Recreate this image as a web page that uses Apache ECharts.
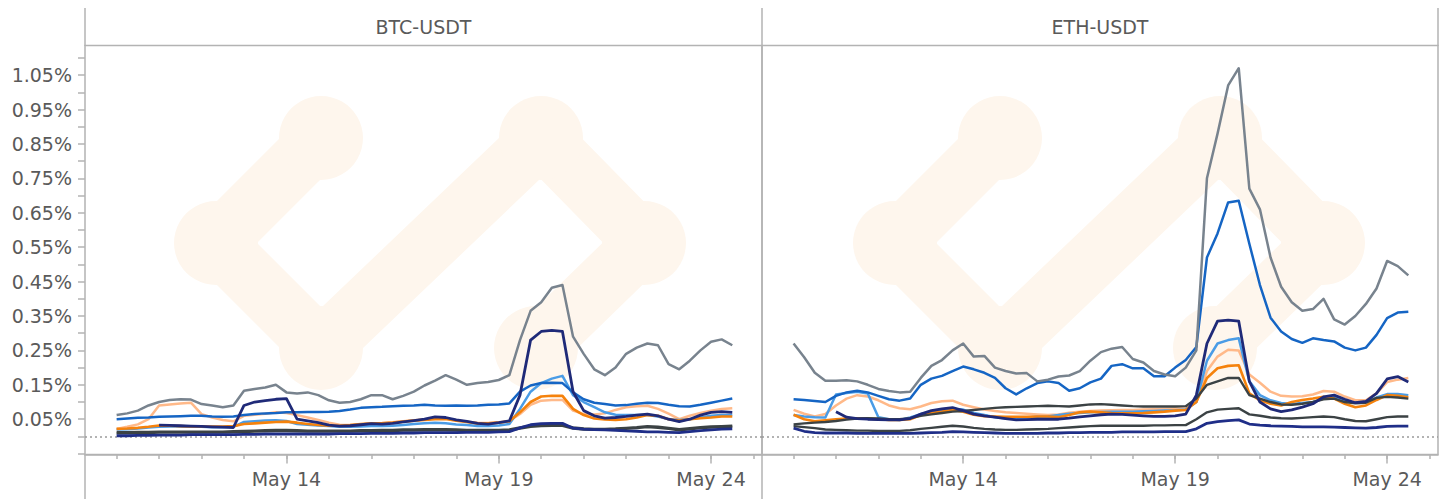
<!DOCTYPE html>
<html><head><meta charset="utf-8">
<script src="https://cdn.jsdelivr.net/npm/echarts@6/dist/echarts.min.js"></script>
<style>html,body{margin:0;padding:0;background:#fff}#c{width:1445px;height:499px}</style>
</head><body><div id="c"></div><script>
// Samples every 6 hours starting May 10 00:00 (x = days since May 10)
const STEP_DAYS = 0.25;
const FIRST_DAY = 10; // May 10
const X_TICK_DAYS = [0,1,2,3,4,5,6,7,8,9,10,11,12,13,14,15];
const X_LABEL_DAYS = [4, 9, 14];
const Y_TICKS = [-0.05,0,0.05,0.1,0.15,0.2,0.25,0.3,0.35,0.4,0.45,0.5,0.55,0.6,0.65,0.7,0.75,0.8,0.85,0.9,0.95,1.0,1.05,1.1];
const Y_LABELS = [0.05,0.15,0.25,0.35,0.45,0.55,0.65,0.75,0.85,0.95,1.05];
const PANEL_TITLES = ['BTC-USDT', 'ETH-USDT'];

// ---- BTC-USDT (values in %) ----
const BTC_gray = [0.062,0.067,0.075,0.09,0.1,0.106,0.108,0.107,0.094,0.09,0.085,0.09,0.133,0.138,0.142,0.15,0.128,0.125,0.128,0.12,0.105,0.098,0.1,0.108,0.12,0.12,0.108,0.118,0.13,0.148,0.162,0.178,0.165,0.15,0.155,0.158,0.164,0.178,0.28,0.365,0.39,0.432,0.44,0.29,0.24,0.195,0.178,0.2,0.24,0.258,0.27,0.265,0.21,0.195,0.22,0.25,0.275,0.282,0.265];
const BTC_blue = [0.05,0.052,0.054,0.055,0.057,0.058,0.059,0.06,0.06,0.058,0.057,0.058,0.062,0.065,0.067,0.068,0.07,0.07,0.071,0.071,0.072,0.074,0.078,0.083,0.085,0.086,0.088,0.089,0.09,0.092,0.09,0.089,0.09,0.089,0.09,0.092,0.093,0.096,0.13,0.148,0.155,0.156,0.155,0.128,0.108,0.098,0.094,0.09,0.091,0.095,0.098,0.097,0.092,0.088,0.087,0.092,0.098,0.104,0.11];
const BTC_navy = [null,null,null,null,0.033,0.032,0.031,0.03,0.029,0.028,0.027,0.026,0.09,0.1,0.104,0.108,0.11,0.05,0.045,0.04,0.033,0.03,0.031,0.034,0.037,0.036,0.038,0.042,0.046,0.05,0.057,0.055,0.048,0.044,0.038,0.036,0.04,0.045,0.12,0.28,0.305,0.308,0.305,0.13,0.075,0.06,0.053,0.055,0.058,0.062,0.065,0.06,0.05,0.043,0.05,0.062,0.07,0.072,0.07];
const BTC_lightblue = [0.02,0.021,0.023,0.026,0.028,0.029,0.029,0.028,0.028,0.027,0.027,0.028,0.042,0.044,0.046,0.047,0.045,0.036,0.034,0.032,0.03,0.028,0.028,0.029,0.03,0.03,0.031,0.033,0.036,0.038,0.04,0.038,0.035,0.033,0.03,0.03,0.032,0.036,0.08,0.13,0.155,0.168,0.176,0.12,0.1,0.085,0.07,0.063,0.062,0.062,0.062,0.058,0.05,0.048,0.05,0.055,0.06,0.062,0.062];
const BTC_peach = [0.022,0.028,0.035,0.05,0.09,0.093,0.096,0.098,0.065,0.055,0.048,0.044,0.06,0.063,0.066,0.07,0.068,0.062,0.055,0.048,0.04,0.034,0.033,0.035,0.038,0.039,0.041,0.044,0.047,0.049,0.052,0.052,0.047,0.043,0.04,0.039,0.041,0.045,0.065,0.092,0.104,0.106,0.106,0.075,0.065,0.064,0.067,0.077,0.085,0.088,0.089,0.08,0.066,0.05,0.06,0.068,0.075,0.08,0.082];
const BTC_orange = [0.022,0.023,0.025,0.028,0.032,0.031,0.03,0.029,0.029,0.029,0.029,0.03,0.036,0.038,0.04,0.042,0.043,0.04,0.036,0.033,0.031,0.031,0.033,0.036,0.038,0.038,0.04,0.043,0.046,0.048,0.05,0.051,0.046,0.042,0.038,0.038,0.04,0.044,0.07,0.1,0.116,0.118,0.118,0.08,0.062,0.052,0.049,0.048,0.05,0.055,0.062,0.06,0.05,0.046,0.05,0.053,0.055,0.058,0.058];
const BTC_char1 = [0.012,0.012,0.013,0.013,0.014,0.014,0.014,0.014,0.014,0.014,0.014,0.015,0.016,0.017,0.018,0.019,0.019,0.018,0.017,0.017,0.017,0.017,0.017,0.018,0.018,0.019,0.019,0.02,0.02,0.021,0.021,0.021,0.02,0.019,0.019,0.019,0.019,0.02,0.026,0.031,0.033,0.034,0.034,0.026,0.023,0.022,0.022,0.023,0.025,0.027,0.03,0.028,0.025,0.021,0.024,0.027,0.029,0.03,0.031];
const BTC_char2 = [0.009,0.009,0.01,0.01,0.011,0.011,0.011,0.011,0.011,0.011,0.011,0.012,0.013,0.014,0.015,0.016,0.016,0.015,0.014,0.014,0.014,0.014,0.014,0.015,0.015,0.016,0.016,0.017,0.017,0.018,0.018,0.018,0.017,0.016,0.016,0.016,0.016,0.017,0.023,0.028,0.03,0.031,0.031,0.023,0.02,0.019,0.019,0.02,0.022,0.024,0.027,0.025,0.022,0.018,0.021,0.024,0.026,0.027,0.028];
const BTC_navy2 = [0.002,0.002,0.003,0.003,0.004,0.004,0.004,0.005,0.005,0.005,0.005,0.005,0.006,0.006,0.007,0.007,0.007,0.007,0.007,0.007,0.007,0.008,0.008,0.008,0.009,0.009,0.009,0.01,0.01,0.011,0.011,0.011,0.011,0.012,0.012,0.012,0.013,0.014,0.025,0.034,0.037,0.038,0.038,0.024,0.021,0.02,0.019,0.018,0.016,0.015,0.013,0.013,0.012,0.011,0.014,0.017,0.019,0.021,0.022];

// ---- ETH-USDT (values in %) ----
const ETH_gray = [0.27,0.23,0.185,0.162,0.162,0.163,0.16,0.15,0.138,0.132,0.128,0.13,0.17,0.205,0.222,0.25,0.27,0.232,0.234,0.2,0.19,0.183,0.184,0.16,0.165,0.174,0.177,0.19,0.22,0.245,0.255,0.26,0.225,0.215,0.19,0.18,0.175,0.2,0.25,0.75,0.88,1.02,1.07,0.72,0.66,0.52,0.435,0.39,0.365,0.37,0.4,0.34,0.325,0.35,0.385,0.43,0.51,0.495,0.468];
const ETH_blue = [0.108,0.106,0.103,0.1,0.118,0.128,0.133,0.128,0.118,0.108,0.104,0.11,0.15,0.168,0.176,0.19,0.203,0.195,0.185,0.17,0.14,0.122,0.14,0.155,0.16,0.155,0.133,0.14,0.157,0.168,0.205,0.21,0.198,0.198,0.175,0.175,0.2,0.222,0.26,0.52,0.59,0.68,0.685,0.56,0.44,0.345,0.305,0.283,0.272,0.285,0.28,0.276,0.258,0.25,0.258,0.295,0.344,0.36,0.362];
const ETH_navy = [null,null,null,null,0.072,0.056,0.052,0.05,0.049,0.048,0.048,0.052,0.065,0.075,0.08,0.084,0.075,0.065,0.06,0.056,0.052,0.048,0.049,0.05,0.05,0.05,0.053,0.057,0.06,0.063,0.065,0.064,0.062,0.06,0.058,0.058,0.06,0.065,0.12,0.27,0.335,0.338,0.335,0.16,0.1,0.08,0.072,0.077,0.085,0.095,0.115,0.12,0.108,0.098,0.102,0.125,0.167,0.174,0.158];
const ETH_lightblue = [0.062,0.058,0.056,0.055,0.122,0.126,0.13,0.125,0.056,0.05,0.048,0.055,0.065,0.072,0.075,0.08,0.078,0.068,0.062,0.056,0.053,0.054,0.055,0.057,0.058,0.062,0.066,0.068,0.07,0.071,0.072,0.072,0.072,0.073,0.074,0.075,0.076,0.078,0.1,0.22,0.27,0.28,0.285,0.16,0.12,0.105,0.097,0.094,0.097,0.1,0.11,0.115,0.103,0.098,0.1,0.113,0.123,0.123,0.12];
const ETH_peach = [0.077,0.066,0.058,0.065,0.09,0.11,0.12,0.116,0.105,0.09,0.082,0.079,0.087,0.097,0.102,0.104,0.092,0.085,0.078,0.074,0.07,0.068,0.066,0.064,0.062,0.064,0.069,0.072,0.074,0.075,0.076,0.077,0.077,0.078,0.079,0.08,0.081,0.082,0.1,0.19,0.232,0.252,0.25,0.18,0.156,0.13,0.118,0.116,0.117,0.122,0.132,0.13,0.116,0.105,0.105,0.125,0.158,0.165,0.17];
const ETH_orange = [0.063,0.05,0.044,0.047,0.05,0.052,0.053,0.052,0.05,0.048,0.048,0.05,0.062,0.068,0.072,0.077,0.072,0.063,0.059,0.058,0.057,0.057,0.057,0.058,0.058,0.056,0.062,0.07,0.072,0.07,0.068,0.067,0.067,0.068,0.07,0.072,0.075,0.077,0.1,0.17,0.198,0.205,0.207,0.125,0.105,0.095,0.09,0.1,0.106,0.11,0.115,0.11,0.095,0.085,0.09,0.106,0.12,0.118,0.114];
const ETH_char1 = [0.035,0.038,0.04,0.042,0.045,0.049,0.052,0.053,0.052,0.05,0.05,0.053,0.06,0.064,0.068,0.072,0.074,0.077,0.08,0.083,0.085,0.086,0.087,0.088,0.089,0.088,0.087,0.09,0.093,0.094,0.092,0.09,0.088,0.087,0.087,0.087,0.087,0.088,0.11,0.15,0.16,0.17,0.17,0.12,0.11,0.1,0.093,0.092,0.095,0.1,0.108,0.11,0.1,0.096,0.098,0.112,0.115,0.113,0.11];
const ETH_char2 = [0.03,0.027,0.024,0.02,0.019,0.018,0.017,0.017,0.016,0.016,0.016,0.018,0.022,0.025,0.028,0.031,0.029,0.025,0.022,0.02,0.019,0.019,0.02,0.021,0.022,0.024,0.026,0.028,0.03,0.031,0.031,0.031,0.031,0.031,0.032,0.032,0.033,0.033,0.05,0.07,0.078,0.08,0.082,0.064,0.06,0.055,0.053,0.052,0.054,0.056,0.058,0.056,0.05,0.045,0.044,0.05,0.056,0.058,0.058];
const ETH_navy2 = [0.024,0.015,0.011,0.01,0.01,0.01,0.009,0.009,0.009,0.009,0.009,0.009,0.01,0.011,0.012,0.014,0.013,0.012,0.011,0.01,0.009,0.009,0.009,0.009,0.01,0.01,0.011,0.011,0.012,0.012,0.012,0.013,0.013,0.013,0.013,0.014,0.014,0.014,0.022,0.038,0.043,0.046,0.048,0.036,0.033,0.031,0.03,0.029,0.028,0.028,0.028,0.027,0.026,0.025,0.024,0.026,0.029,0.03,0.03];

const PANEL_DATA = [
  {peach:BTC_peach, lightblue:BTC_lightblue, orange:BTC_orange, char2:BTC_char2, char1:BTC_char1, navy2:BTC_navy2, blue:BTC_blue, gray:BTC_gray, navy:BTC_navy},
  {peach:ETH_peach, lightblue:ETH_lightblue, orange:ETH_orange, char2:ETH_char2, char1:ETH_char1, navy2:ETH_navy2, blue:ETH_blue, gray:ETH_gray, navy:ETH_navy}
];
const LINE_STYLES = [
  {key:'peach', color:'#ffb989', width:2.5},
  {key:'lightblue', color:'#4a9ce6', width:2.5},
  {key:'orange', color:'#f5820c', width:2.6},
  {key:'char2', color:'#3b4244', width:2.4},
  {key:'char1', color:'#3b4244', width:2.4},
  {key:'navy2', color:'#1f2e88', width:2.8},
  {key:'blue', color:'#1565c4', width:2.5},
  {key:'gray', color:'#78838e', width:2.5},
  {key:'navy', color:'#1f2a78', width:2.8}
];

const TXT = '#5a5a5a', LINE = '#b3b3b3', FONT = 'DejaVu Sans', FS = 19;
const X_MIN = -0.745, X_MAX = 15.2, Y_MIN = -0.0525, Y_MAX = 1.136;
const G_TOP = 45.5, G_BOTTOM = 44.5;
const grids = [
  {left:85, top:G_TOP, width:677, bottom:G_BOTTOM},
  {left:762, top:G_TOP, width:676, bottom:G_BOTTOM}
];

const xAxis = [], yAxis = [], series = [];
grids.forEach((g, p) => {
  g.show = true; g.borderColor = LINE; g.borderWidth = 1.5; g.containLabel = false; g.outerBoundsMode = 'none';
  xAxis.push({gridIndex:p, type:'value', min:X_MIN, max:X_MAX, position:'bottom',
    axisLine:{show:true, onZero:false, lineStyle:{color:LINE, width:1.5}},
    axisTick:{show:true, customValues:X_TICK_DAYS, length:4.5, lineStyle:{color:LINE, width:1.5}},
    axisLabel:{show:false}, splitLine:{show:false}});
  xAxis.push({gridIndex:p, type:'value', min:X_MIN, max:X_MAX, position:'bottom',
    axisLine:{show:false, onZero:false},
    axisTick:{show:true, customValues:X_LABEL_DAYS, length:9, lineStyle:{color:LINE, width:1.5}},
    axisLabel:{show:true, customValues:X_LABEL_DAYS, margin:15, color:TXT, fontSize:FS, fontFamily:FONT,
      formatter:v => 'May ' + (FIRST_DAY + Math.round(v))},
    splitLine:{show:false}});
  yAxis.push({gridIndex:p, type:'value', min:Y_MIN, max:Y_MAX, position:'left',
    axisLine:{show:false, onZero:false},
    axisTick:{show:p === 0, customValues:Y_TICKS, length:7, lineStyle:{color:LINE, width:1.5}},
    axisLabel:{show:p === 0, customValues:Y_LABELS, margin:13, color:TXT, fontSize:FS, fontFamily:FONT,
      formatter:v => v.toFixed(2) + '%'},
    splitLine:{show:false}});
  LINE_STYLES.forEach((s, k) => {
    const arr = PANEL_DATA[p][s.key];
    const ser = {type:'line', name:PANEL_TITLES[p] + ' ' + s.key, xAxisIndex:p*2, yAxisIndex:p,
      data:arr.map((v, i) => [i * STEP_DAYS, v]), showSymbol:false, symbol:'none', silent:true,
      connectNulls:false, lineStyle:{color:s.color, width:s.width, join:'round'}, itemStyle:{color:s.color}, z:3 + k};
    if (k === 0) {
      ser.markLine = {silent:true, symbol:'none', label:{show:false},
        lineStyle:{color:'#9a9a9a', width:1.5, type:[2,3]}, data:[{yAxis:0}]};
    }
    series.push(ser);
  });
});

// watermark logo + frame extensions + panel headers
const WM = '#fef6ed';
const graphic = [];
[[431, 243], [1110, 243]].forEach(([cx, cy]) => {
  const pts = [[cx-110, cy-105], [cx-215, cy], [cx-110, cy+105], [cx+110, cy-105], [cx+213, cy], [cx+105, cy+105]];
  graphic.push({type:'polyline', z:1, silent:true, shape:{points:pts},
    style:{stroke:WM, lineWidth:58, lineCap:'round', lineJoin:'round', fill:null}});
  pts.forEach(([x, y]) => graphic.push({type:'circle', z:1, silent:true, shape:{cx:x, cy:y, r:42}, style:{fill:WM}}));
});
[[85, 8, 46], [762, 8, 46], [1438, 8, 46], [85, 454, 499], [762, 454, 499]].forEach(([x, y1, y2]) => {
  graphic.push({type:'line', z:5, silent:true, shape:{x1:x, y1:y1, x2:x, y2:y2}, style:{stroke:LINE, lineWidth:1.5}});
});
PANEL_TITLES.forEach((t, p) => {
  const cx = grids[p].left + grids[p].width / 2;
  graphic.push({type:'text', z:5, silent:true, x:cx, y:27,
    style:{text:t, fill:TXT, font:FS + 'px "' + FONT + '"', align:'center', verticalAlign:'middle',
      textAlign:'center', textVerticalAlign:'middle'}});
});

const chart = echarts.init(document.getElementById('c'), null, {renderer:'svg', width:1445, height:499});
chart.setOption({
  animation:false, backgroundColor:'#fff',
  textStyle:{fontFamily:FONT},
  grid:grids, xAxis, yAxis, series, graphic
});
</script></body></html>
